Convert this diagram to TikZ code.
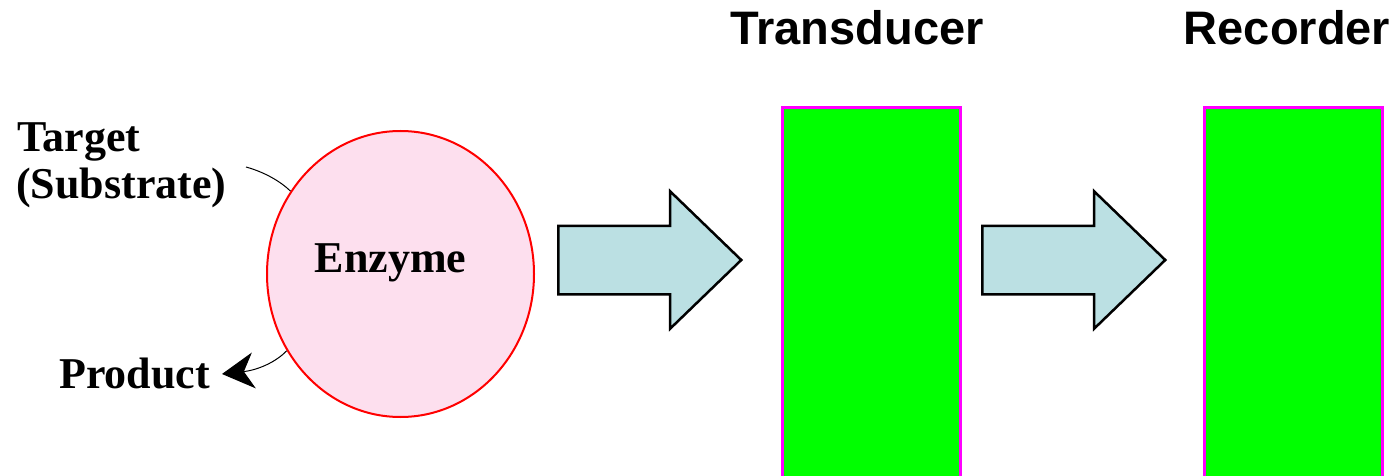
\documentclass[tikz,border=0pt]{standalone}
\usepackage{fontspec}
\setmainfont{Liberation Serif}
\newfontfamily\arialfont{Liberation Sans}
\usetikzlibrary{shapes.geometric,shapes.arrows,arrows.meta}
\definecolor{enzpink}{RGB}{253,223,238}
\definecolor{arrowblue}{RGB}{187,224,227}
\definecolor{boxgreen}{RGB}{0,255,0}
\definecolor{boxmag}{RGB}{255,0,255}
\tikzset{
  lbl/.style={font=\fontsize{44}{48}\selectfont\bfseries, inner sep=0pt, anchor=base west},
  title/.style={font=\arialfont\fontsize{47}{52}\selectfont\bfseries, inner sep=0pt, anchor=base},
  bigarrow/.style={shape=single arrow, draw=black, line width=2.5pt, fill=arrowblue,
    minimum height=183pt, single arrow head extend=34.5pt,
    single arrow head indent=0pt, single arrow tip angle=88, inner sep=0pt, anchor=west},
  gbox/.style={draw=boxmag, line width=3pt, fill=boxgreen, minimum width=178pt,
    minimum height=390pt, inner sep=0pt, anchor=north west},
  thin/.style={black, line width=1pt}
}
\begin{document}
\begin{tikzpicture}[x=1pt,y=-1pt]
\useasboundingbox (0,0) rectangle (1398,476);
\node[ellipse, draw=red, line width=2pt, fill=enzpink, minimum width=267pt, minimum height=286pt, inner sep=0pt] (enz) at (400.5,274) {};
\node[font=\fontsize{44}{48}\selectfont\bfseries, inner sep=0pt, anchor=base] (enzt) at (390.5,272) {Enzyme};
\node[lbl] (target) at (17,152) {Target};
\node[lbl] (subst) at (16,198) {(Substrate)};
\node[lbl] (prod) at (59,388) {Product};
\coordinate (tstart) at (246,167);
\coordinate (ptip) at (222,374);
\draw[thin] (tstart) .. controls (264,172) and (280,181) .. (enz.143);
\draw[thin, -{Stealth[length=32pt, width=36pt, inset=10pt]}] (enz.214) .. controls (276,362) and (258,370) .. (ptip);
\node[bigarrow] (a1) at (557,260) {\rule{0pt}{66pt}};
\node[bigarrow] (a2) at (981,260) {\rule{0pt}{66pt}};
\node[gbox] (trans) at (781,106) {};
\node[gbox] (rec) at (1203,106) {};
\node[title] (transt) at (857,45) {Transducer};
\node[title] (rect) at (1287,45) {Recorder};
\end{tikzpicture}
\end{document}
